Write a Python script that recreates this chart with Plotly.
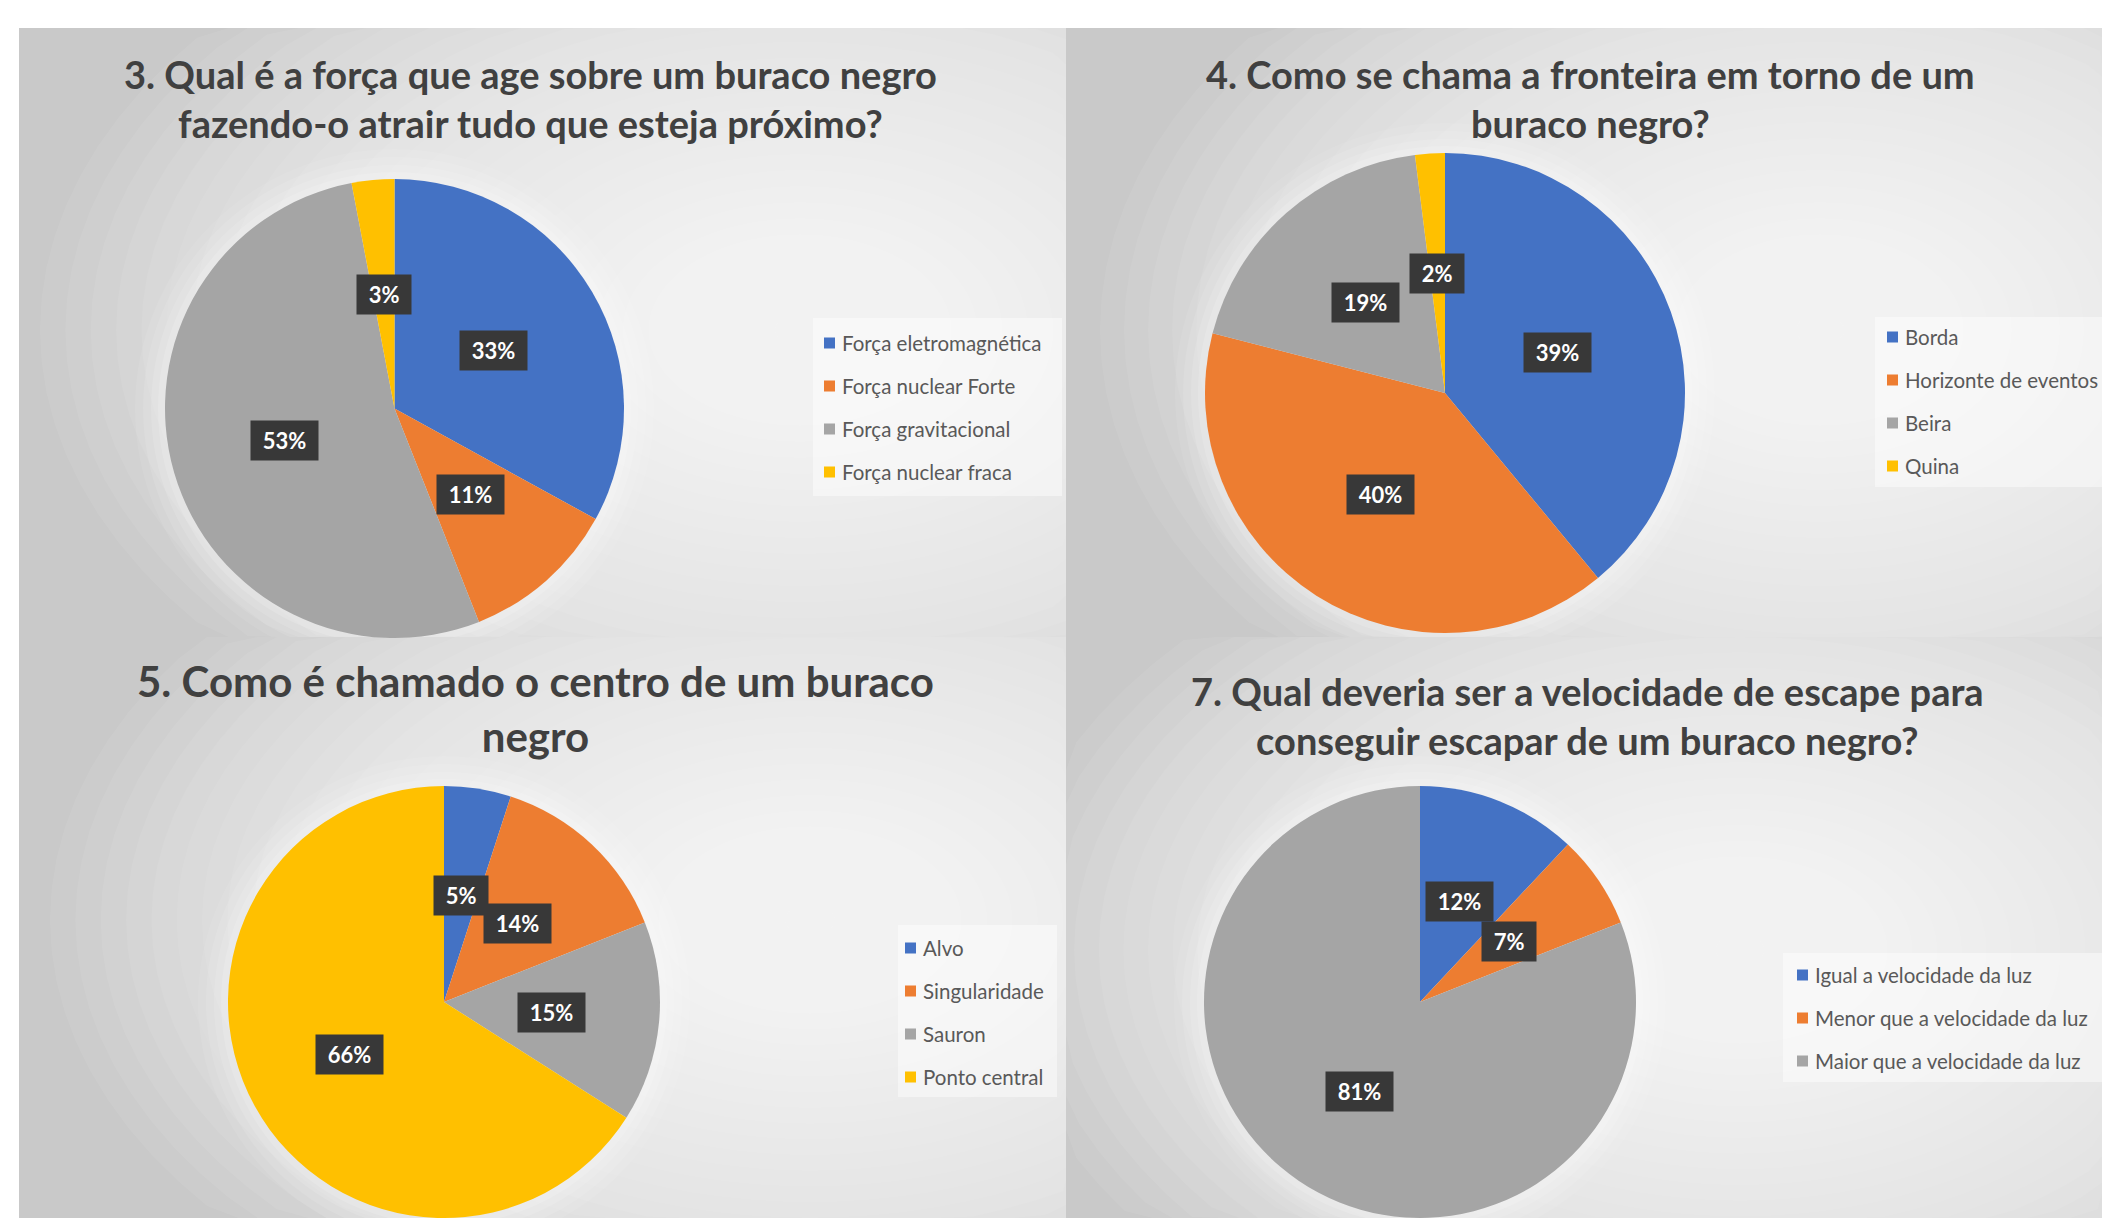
import math
import plotly.graph_objects as go

W, H = 2102, 1218

# ---------------- data ----------------
q3_title = "3. Qual é a força que age sobre um buraco negro<br>fazendo-o atrair tudo que esteja próximo?"
q3_labels = ["Força eletromagnética", "Força nuclear Forte", "Força gravitacional", "Força nuclear fraca"]
q3_values = [33, 11, 53, 3]

q4_title = "4. Como se chama a fronteira em torno de um<br>buraco negro?"
q4_labels = ["Borda", "Horizonte de eventos", "Beira", "Quina"]
q4_values = [39, 40, 19, 2]

q5_title = "5. Como é chamado o centro de um buraco<br>negro"
q5_labels = ["Alvo", "Singularidade", "Sauron", "Ponto central"]
q5_values = [5, 14, 15, 66]

q7_title = "7. Qual deveria ser a velocidade de escape para<br>conseguir escapar de um buraco negro?"
q7_labels = ["Igual a velocidade da luz", "Menor que a velocidade da luz", "Maior que a velocidade da luz"]
q7_values = [12, 7, 81]

slice_colors = ["#4472C4", "#ED7D31", "#A5A5A5", "#FFC000"]

# ---------------- layout (pixels, origin top-left) ----------------
charts = [
    dict(title=q3_title, labels=q3_labels, values=q3_values,
         panel=(19, 28, 1066, 637), glow=(800, 330, 760, 480),
         pie=(394.5, 408.5, 229.5), title_xy=(530, 98), title_size=38,
         leg=(840, 343), leg_box=(813, 318, 1062, 496)),
    dict(title=q4_title, labels=q4_labels, values=q4_values,
         panel=(1066, 28, 2102, 637), glow=(1820, 330, 720, 480),
         pie=(1445, 393, 240), title_xy=(1590, 98), title_size=38,
         leg=(1903, 337), leg_box=(1875, 317, 2102, 487)),
    dict(title=q5_title, labels=q5_labels, values=q5_values,
         panel=(19, 637, 1066, 1218), glow=(810, 920, 760, 470),
         pie=(444, 1002, 216), title_xy=(535, 708), title_size=42,
         leg=(921, 948), leg_box=(898, 925, 1057, 1097)),
    dict(title=q7_title, labels=q7_labels, values=q7_values,
         panel=(1066, 637, 2102, 1218), glow=(1740, 950, 740, 470),
         pie=(1420, 1002, 216), title_xy=(1587, 716), title_size=38,
         leg=(1813, 975), leg_box=(1783, 953, 2102, 1082)),
]

LEG_STEP = 43
FONT = "Lato, 'Open Sans', sans-serif"


def px(x):
    return x / W


def py(y):
    return 1 - y / H


def clipped_ellipse(cx, cy, rx, ry, box, n=96):
    x0, y0, x1, y1 = box
    pts = []
    for k in range(n):
        t = 2 * math.pi * k / n
        x = min(max(cx + rx * math.cos(t), x0), x1)
        y = min(max(cy + ry * math.sin(t), y0), y1)
        pts.append(f"{px(x):.5f},{py(y):.5f}")
    return "M " + " L ".join(pts) + " Z"


fig = go.Figure()
shapes = []
annotations = []

for c in charts:
    x0, y0, x1, y1 = c["panel"]
    # panel base
    shapes.append(dict(type="rect", xref="paper", yref="paper", x0=px(x0), x1=px(x1),
                       y0=py(y1), y1=py(y0), fillcolor="#c9c9c9", line=dict(width=0), layer="below"))
    # radial light (layered translucent ellipses clipped to panel)
    gx, gy, grx, gry = c["glow"]
    n_layers = 30
    for i in range(n_layers):
        f = 1 - i / n_layers
        shapes.append(dict(type="path", xref="paper", yref="paper",
                           path=clipped_ellipse(gx, gy, grx * f, gry * f, c["panel"]),
                           fillcolor="rgba(255,255,255,0.072)", line=dict(width=0), layer="below"))
    # soft halo around pie
    cx, cy, r = c["pie"]
    for d, a in [(30, 0.08), (22, 0.1), (14, 0.12), (7, 0.15)]:
        shapes.append(dict(type="circle", xref="paper", yref="paper",
                           x0=px(cx - r - d), x1=px(cx + r + d), y0=py(cy + r + d), y1=py(cy - r - d),
                           fillcolor=f"rgba(255,255,255,{a})", line=dict(width=0), layer="below"))
    # legend box
    bx0, by0, bx1, by1 = c["leg_box"]
    shapes.append(dict(type="rect", xref="paper", yref="paper", x0=px(bx0), x1=px(bx1),
                       y0=py(by1), y1=py(by0), fillcolor="rgba(255,255,255,0.45)",
                       line=dict(width=0), layer="below"))

    # pie
    fig.add_trace(go.Pie(
        labels=c["labels"], values=c["values"], sort=False, direction="clockwise", rotation=0,
        marker=dict(colors=slice_colors[:len(c["values"])], line=dict(width=0)),
        textinfo="none", showlegend=False,
        domain=dict(x=[px(cx - r), px(cx + r)], y=[py(cy + r), py(cy - r)]),
        hovertemplate="%{label}: %{value}%<extra></extra>",
    ))

    # data labels (dark boxes) at half radius on the mid-angle of each slice
    total = sum(c["values"])
    acc = 0
    for v in c["values"]:
        mid = (acc + v / 2) / total * 2 * math.pi
        acc += v
        lx = cx + 0.5 * r * math.sin(mid)
        ly = cy - 0.5 * r * math.cos(mid)
        annotations.append(dict(x=px(lx), y=py(ly), xref="paper", yref="paper", showarrow=False,
                                text=f"\u00a0<b>{v}%</b>\u00a0", xanchor="center", yanchor="middle",
                                font=dict(family=FONT, size=22, color="white"),
                                bgcolor="#383838", borderpad=6))

    # title
    tx, ty = c["title_xy"]
    annotations.append(dict(x=px(tx), y=py(ty), xref="paper", yref="paper", showarrow=False,
                            text=f"<b>{c['title']}</b>", xanchor="center", yanchor="middle",
                            align="center", font=dict(family=FONT, size=c["title_size"], color="#404040")))

    # legend entries
    lx0, ly0 = c["leg"]
    for i, lab in enumerate(c["labels"]):
        yy = ly0 + i * LEG_STEP
        shapes.append(dict(type="rect", xref="paper", yref="paper",
                           x0=px(lx0 - 16), x1=px(lx0 - 5), y0=py(yy + 5.5), y1=py(yy - 5.5),
                           fillcolor=slice_colors[i], line=dict(width=0)))
        annotations.append(dict(x=px(lx0), y=py(yy), xref="paper", yref="paper", showarrow=False,
                                text=lab, xanchor="left", yanchor="middle",
                                font=dict(family=FONT, size=20.5, color="#595959")))

fig.update_layout(
    width=W, height=H, margin=dict(l=0, r=0, t=0, b=0, pad=0),
    paper_bgcolor="white", plot_bgcolor="white",
    shapes=shapes, annotations=annotations,
    font=dict(family=FONT),
)

fig.write_html("out.html", config={"displayModeBar": False},
               post_script="document.body.style.margin='0px';document.body.style.overflow='hidden';")
